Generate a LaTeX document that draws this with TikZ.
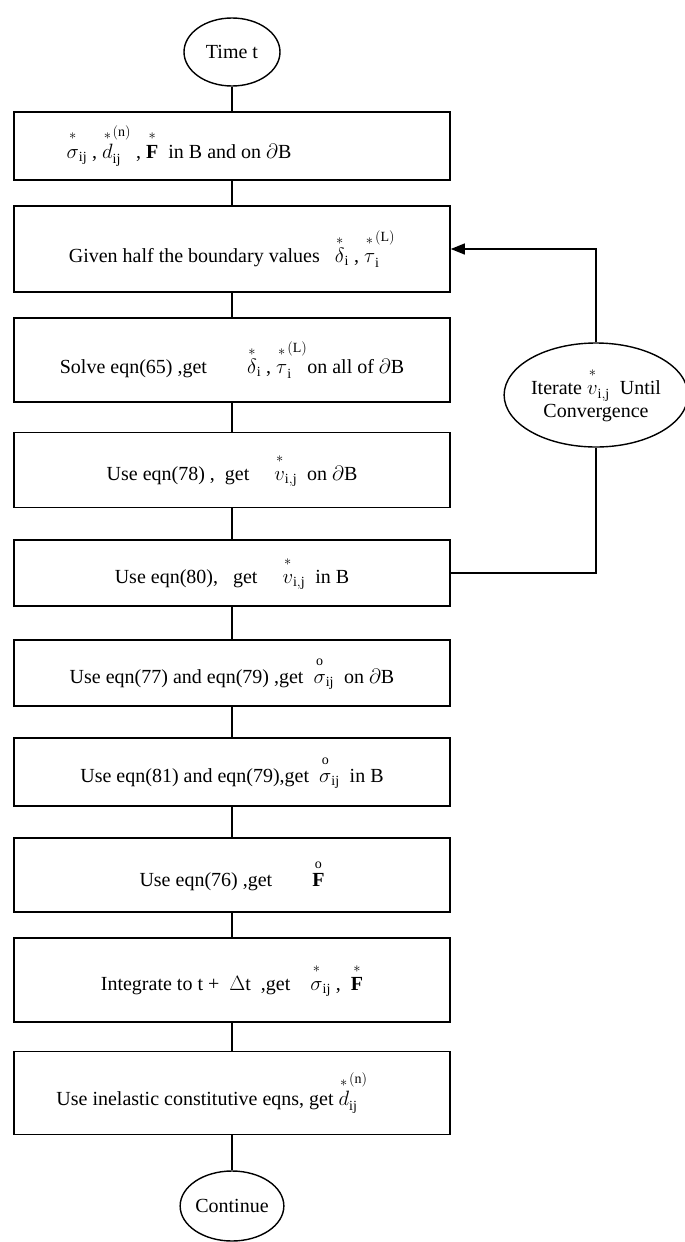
\documentclass[tikz,border=0pt]{standalone}
\usepackage{amsmath}
\usepackage{fontspec}
\setmainfont{Liberation Serif}
\usetikzlibrary{arrows.meta,positioning,shapes.geometric}

% a letter with a small mark set above it
\newcommand{\marked}[2]{{\overset{#1}{\vphantom{T}#2}}}

\begin{document}
\begin{tikzpicture}[x=1pt, y=-1pt,
  stepbox/.style={draw, line width=1.6pt, minimum width=436pt, inner sep=2pt,
    font=\fontsize{20}{23}\selectfont},
  endpoint/.style={draw, ellipse, line width=1.4pt, inner sep=0pt,
    font=\fontsize{20}{23}\selectfont},
  link/.style={line width=1.3pt}]
  \useasboundingbox (0,0) rectangle (685,1242);

  \node[endpoint, minimum width=96pt, minimum height=68pt] (start) at (232,52) {Time t};

  \node[stepbox, minimum height=68pt] (b1) at (232,146)
    {$\marked{*}{\sigma}_{\mathrm{ij}}$ , $\marked{*}{d}^{(\mathrm{n})}_{\mathrm{ij}}$ ,
     $\marked{*}{\mathbf{F}}$\ \ in B and on $\partial$B\hspace*{106pt}};
  \node[stepbox, minimum height=86pt] (b2) at (232,249)
    {Given half the boundary values\ \ \ $\marked{*}{\delta}_{\mathrm{i}}$ ,
     $\marked{*}{\tau}^{(\mathrm{L})}_{\mathrm{i}}$};
  \node[stepbox, minimum height=84pt] (b3) at (232,360)
    {Solve eqn(65) ,get\qquad $\marked{*}{\delta}_{\mathrm{i}}$ ,
     $\marked{*}{\tau}^{(\mathrm{L})}_{\mathrm{i}}$on all of $\partial$B};
  \node[stepbox, minimum height=75pt] (b4) at (232,470)
    {Use eqn(78) ,\ \ get\quad\ $\marked{*}{v}_{\mathrm{i,j}}$\ \ on $\partial$B};
  \node[stepbox, minimum height=66pt] (b5) at (232,573)
    {Use eqn(80),\ \ \ get\quad\ $\marked{*}{v}_{\mathrm{i,j}}$\ \ in B};
  \node[stepbox, minimum height=66pt] (b6) at (232,673)
    {Use eqn(77) and eqn(79) ,get\ \ $\marked{\mathrm{o}}{\sigma}_{\mathrm{ij}}$\ \ on $\partial$B};
  \node[stepbox, minimum height=68pt] (b7) at (232,772)
    {Use eqn(81) and eqn(79),get\ \ $\marked{\mathrm{o}}{\sigma}_{\mathrm{ij}}$\ \ in B};
  \node[stepbox, minimum height=74pt] (b8) at (232,875)
    {Use eqn(76) ,get\qquad $\marked{\mathrm{o}}{\mathbf{F}}$};
  \node[stepbox, minimum height=84pt] (b9) at (232,980)
    {Integrate to t +\ \ $\Delta$t\ \ ,get\quad $\marked{*}{\sigma}_{\mathrm{ij}}$ ,\ \ $\marked{*}{\mathbf{F}}$};
  \node[stepbox, minimum height=83pt] (b10) at (232,1093)
    {Use inelastic constitutive eqns, get $\marked{*}{d}^{(\mathrm{n})}_{\mathrm{ij}}$\hspace*{40pt}};

  \node[endpoint, minimum width=100pt, minimum height=70pt] (stop) at (232,1206) {Continue};

  \node[endpoint, minimum width=174pt, minimum height=104pt, align=center] (iter) at (596,395)
    {Iterate $\marked{*}{v}_{\mathrm{i,j}}$\ \ Until\\Convergence};

  % main chain
  \draw[link] (start) -- (b1);
  \draw[link] (b1) -- (b2);
  \draw[link] (b2) -- (b3);
  \draw[link] (b3) -- (b4);
  \draw[link] (b4) -- (b5);
  \draw[link] (b5) -- (b6);
  \draw[link] (b6) -- (b7);
  \draw[link] (b7) -- (b8);
  \draw[link] (b8) -- (b9);
  \draw[link] (b9) -- (b10);
  \draw[link] (b10) -- (stop);

  % iteration loop
  \draw[link] (b5.east) -| (iter.south);
  \draw[link, -{Triangle[length=14pt, width=11pt]}] (iter.north) |- (b2.east);
\end{tikzpicture}
\end{document}
